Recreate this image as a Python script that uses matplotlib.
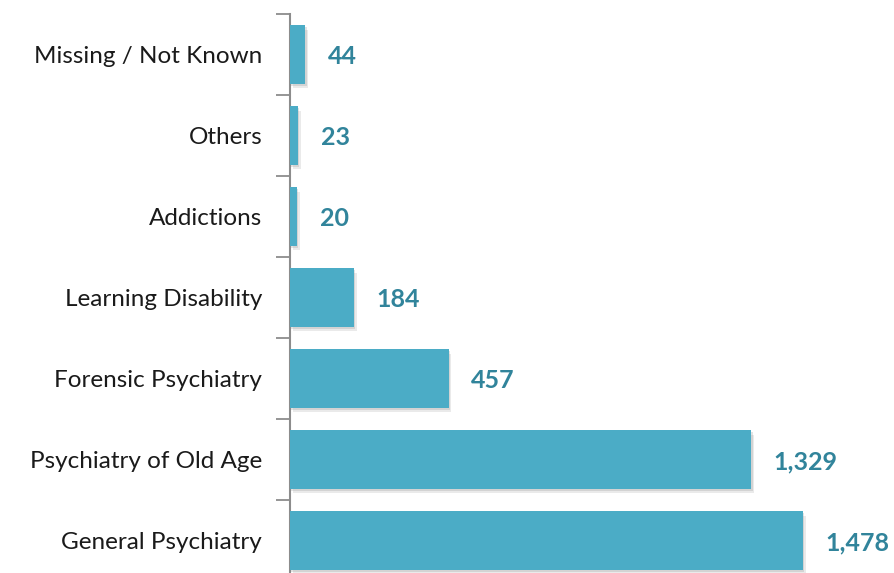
import numpy as np
import matplotlib
matplotlib.use('Agg')
import matplotlib.pyplot as plt
import matplotlib.patheffects as pe

# specialty counts, top to bottom
categories = ['Missing / Not Known', 'Others', 'Addictions', 'Learning Disability',
              'Forensic Psychiatry', 'Psychiatry of Old Age', 'General Psychiatry']
counts = [44, 23, 20, 184, 457, 1329, 1478]

bar_color = '#4BACC6'
label_color = '#31849B'

plt.rcParams['font.family'] = ['Lato', 'DejaVu Sans']

fig = plt.figure(figsize=(8.95, 5.73), dpi=100)
# axis spans 7 slots of ~81 px, starting at x=290
ax = fig.add_axes([290/895, -8/573, 605/895, 567/573])

n = len(categories)
y = np.arange(n)[::-1]
bars = ax.barh(y, counts, height=0.72, color=bar_color, zorder=3)
for b in bars:
    b.set_path_effects([pe.SimplePatchShadow(offset=(2, -3), shadow_rgbFace='#909090', alpha=0.18),
                        pe.SimplePatchShadow(offset=(1, -1.5), shadow_rgbFace='#909090', alpha=0.25),
                        pe.Normal()])

for yi, v in zip(y, counts):
    ax.text(v + 65, yi - 0.03, f'{v:,}', va='center', ha='left',
            fontsize=18, fontweight='bold', color=label_color)

ax.set_xlim(0, 1478 * 605 / 513)
ax.set_ylim(-0.5, n - 0.5)

ax.set_yticks(y)
ax.set_yticklabels(categories, fontsize=17.5, color='#1a1a1a')
ax.tick_params(axis='y', which='major', length=0, pad=20)
ax.set_yticks(np.arange(-0.5, n, 1), minor=True)
ax.tick_params(axis='y', which='minor', length=10, width=1.3, color='#8c8c8c')
ax.set_xticks([])

for s in ['top', 'right', 'bottom']:
    ax.spines[s].set_visible(False)
ax.spines['left'].set_color('#8c8c8c')
ax.spines['left'].set_linewidth(1.5)

fig.savefig('out.png', dpi=100)
